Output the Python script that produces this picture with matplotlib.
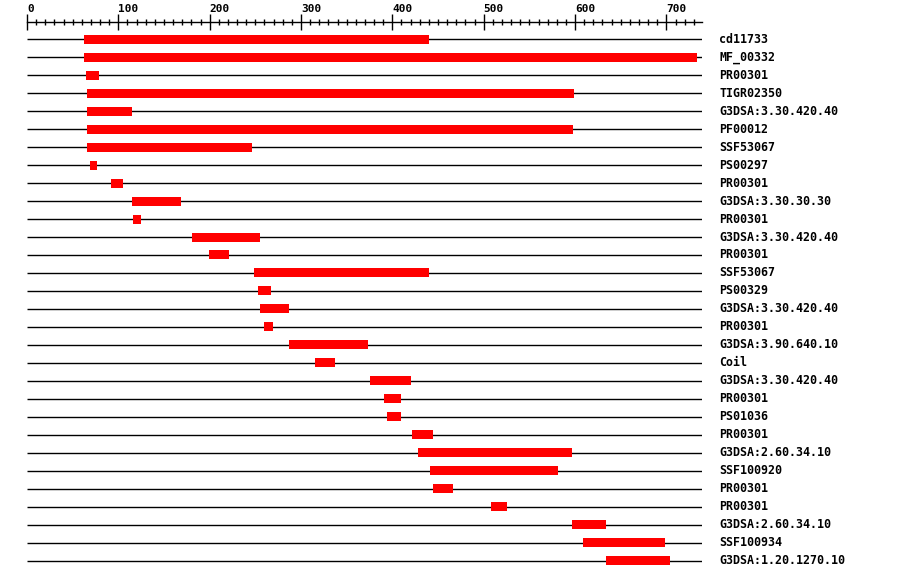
import matplotlib
matplotlib.use("Agg")
from matplotlib import pyplot as plt
from matplotlib.ticker import MultipleLocator

plt.rcParams['font.family'] = ['DejaVu Sans Mono']
plt.rcParams['font.weight'] = 'bold'

# domain hits along the protein sequence
labels = ["cd11733", "MF_00332", "PR00301", "TIGR02350", "G3DSA:3.30.420.40",
          "PF00012", "SSF53067", "PS00297", "PR00301", "G3DSA:3.30.30.30",
          "PR00301", "G3DSA:3.30.420.40", "PR00301", "SSF53067", "PS00329",
          "G3DSA:3.30.420.40", "PR00301", "G3DSA:3.90.640.10", "Coil",
          "G3DSA:3.30.420.40", "PR00301", "PS01036", "PR00301",
          "G3DSA:2.60.34.10", "SSF100920", "PR00301", "PR00301",
          "G3DSA:2.60.34.10", "SSF100934", "G3DSA:1.20.1270.10"]
starts = [62, 62, 65, 66, 66, 66, 66, 69, 92, 115, 116, 181, 199, 248, 253,
          255, 259, 287, 315, 376, 391, 394, 422, 428, 441, 445, 508, 597, 609, 634]
ends = [440, 733, 79, 599, 115, 598, 246, 77, 105, 169, 125, 255, 221, 440, 267,
        287, 269, 373, 337, 420, 409, 410, 444, 597, 581, 466, 526, 634, 699, 704]
seq_len = 739

fig = plt.figure(figsize=(9, 5.8), dpi=100)
ax = fig.add_axes([27 / 900, 0, 675 / 900, 1])
ax.set_xlim(0, seq_len)
ax.set_ylim(30.0556, -2.1667)

rows = list(range(len(labels)))
ax.hlines(rows, 0, seq_len, color="black", lw=1.0)
ax.barh(rows, [e - s for s, e in zip(starts, ends)], left=starts,
        height=0.5, color="#ff0000", zorder=3)
for r, lab in zip(rows, labels):
    ax.text(758, r, lab, fontsize=8.4, va="center", ha="left", clip_on=False)

# ruler on top
for side in ["left", "right", "bottom"]:
    ax.spines[side].set_visible(False)
ax.spines["top"].set_position(("data", -0.944))
ax.spines["top"].set_linewidth(1.0)
ax.yaxis.set_visible(False)
ax.xaxis.set_ticks_position("top")
ax.xaxis.set_major_locator(MultipleLocator(100))
ax.xaxis.set_minor_locator(MultipleLocator(10))
ax.tick_params(axis="x", which="major", direction="inout", length=12.2,
               width=1.0, pad=0, labelsize=8)
ax.tick_params(axis="x", which="minor", direction="inout", length=5, width=1.0)
for tl in ax.get_xticklabels():
    tl.set_ha("left")

fig.savefig("out.png", dpi=100)
